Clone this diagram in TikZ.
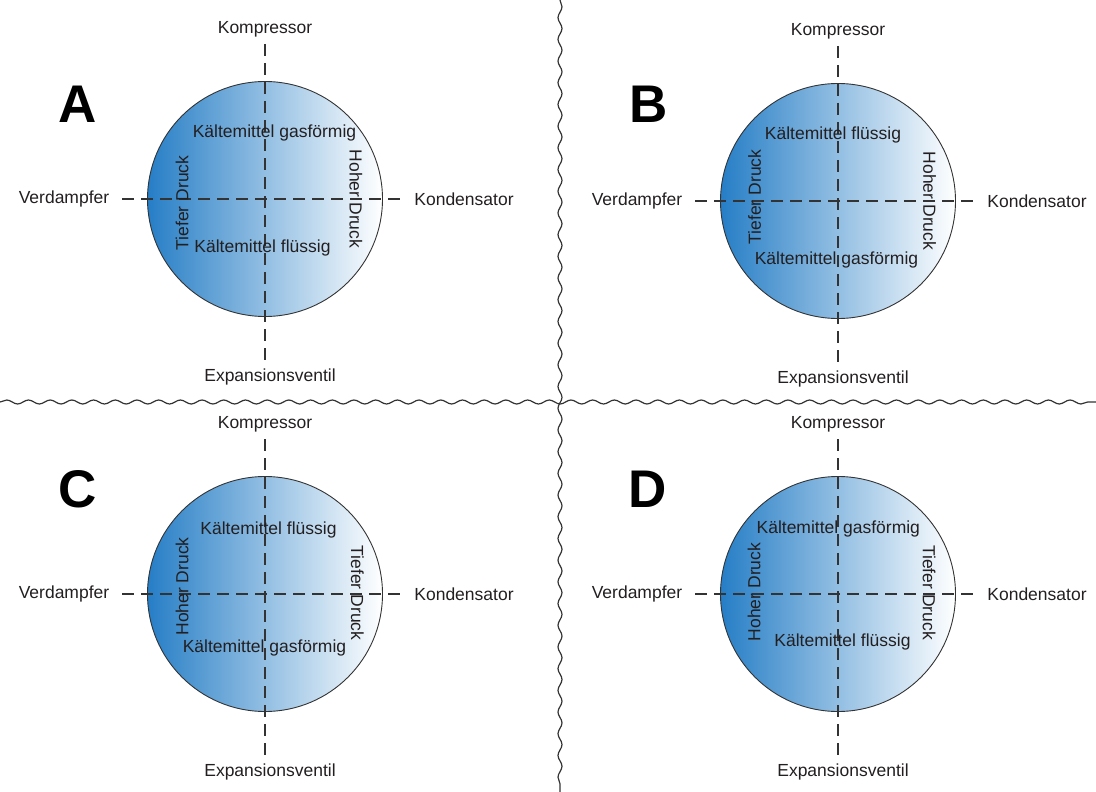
\documentclass[tikz,border=0pt]{standalone}
\usepackage{fontspec}
\setmainfont{Liberation Sans}
\usepackage{xcolor}
\usepackage{tikz}
\usetikzlibrary{calc, decorations.pathmorphing, positioning}

\definecolor{kaltblau}{RGB}{38,126,198}
\definecolor{strich}{RGB}{51,51,51}
\definecolor{schrift}{RGB}{35,31,32}

\begin{document}
\begin{tikzpicture}[x=1pt, y=-1pt,
    txt/.style={text=schrift, inner sep=0pt, font=\fontsize{17.5}{20}\selectfont},
    buchstabe/.style={text=black, inner sep=0pt, font=\fontsize{53}{60}\selectfont\bfseries},
    kreis/.style={circle, draw=strich, line width=0.9pt, minimum size=235pt, inner sep=0pt,
        left color=kaltblau, right color=white},
    achse/.style={strich, line width=1.1pt, dash pattern=on 12pt off 7pt},
    welle/.style={strich, line width=1.2pt, decorate,
        decoration={snake, amplitude=2pt, segment length=21.7pt}}]
    \useasboundingbox (0,0) rectangle (1096,792);

    % 1. Trennlinien
    \coordinate (wl) at (0,402);
    \coordinate (wr) at (1096,402);
    \coordinate (wo) at (560,0);
    \coordinate (wu) at (560,792);
    \draw[welle] (wl) -- (wr);
    \draw[welle] (wo) -- (wu);

    % 2. Kreise, Achsen und Bauteile
    \foreach \n/\cx/\cy/\bx/\by in {A/265/199/78/104, B/838/201/649/104,
                                    C/265/594/78/489, D/838/594/648/489}{
        \node[kreis] (\n-kreis) at (\cx,\cy) {};
        \coordinate (\n-o) at (\cx,\cy-155);
        \coordinate (\n-u) at (\cx,\cy+163);
        \coordinate (\n-l) at (\cx-143,\cy);
        \coordinate (\n-r) at (\cx+140,\cy);
        \draw[achse] (\n-o) -- (\n-u);
        \draw[achse] (\n-l) -- (\n-r);
        \node[txt] (\n-komp) at (\cx,\cy-170) {Kompressor};
        \node[txt] (\n-exp) at (\cx+5,\cy+178) {Expansionsventil};
        \node[txt] (\n-verd) at (\cx-201,\cy) {Verdampfer};
        \node[txt] (\n-kond) at (\cx+199,\cy) {Kondensator};
        \node[buchstabe] (\n-titel) at (\bx,\by) {\n};
    }

    % 3. Beschriftung A
    \node[txt] (A-oben) at (274.5,133) {Kältemittel gasförmig};
    \node[txt] (A-unten) at (262.5,248) {Kältemittel flüssig};
    \node[txt, rotate=90] (A-links) at (182,203) {Tiefer Druck};
    \node[txt, rotate=-90] (A-rechts) at (356,199) {Hoher Druck};

    % 4. Beschriftung B
    \node[txt] (B-oben) at (833,135) {Kältemittel flüssig};
    \node[txt] (B-unten) at (836.5,260) {Kältemittel gasförmig};
    \node[txt, rotate=90] (B-links) at (754.5,197) {Tiefer Druck};
    \node[txt, rotate=-90] (B-rechts) at (929.5,201) {Hoher Druck};

    % 5. Beschriftung C
    \node[txt] (C-oben) at (268.5,530) {Kältemittel flüssig};
    \node[txt] (C-unten) at (264.5,648) {Kältemittel gasförmig};
    \node[txt, rotate=90] (C-links) at (182,586.5) {Hoher Druck};
    \node[txt, rotate=-90] (C-rechts) at (357.5,593) {Tiefer Druck};

    % 6. Beschriftung D
    \node[txt] (D-oben) at (838.3,529) {Kältemittel gasförmig};
    \node[txt] (D-unten) at (842.5,642) {Kältemittel flüssig};
    \node[txt, rotate=90] (D-links) at (754,592) {Hoher Druck};
    \node[txt, rotate=-90] (D-rechts) at (929,592.5) {Tiefer Druck};
\end{tikzpicture}
\end{document}
